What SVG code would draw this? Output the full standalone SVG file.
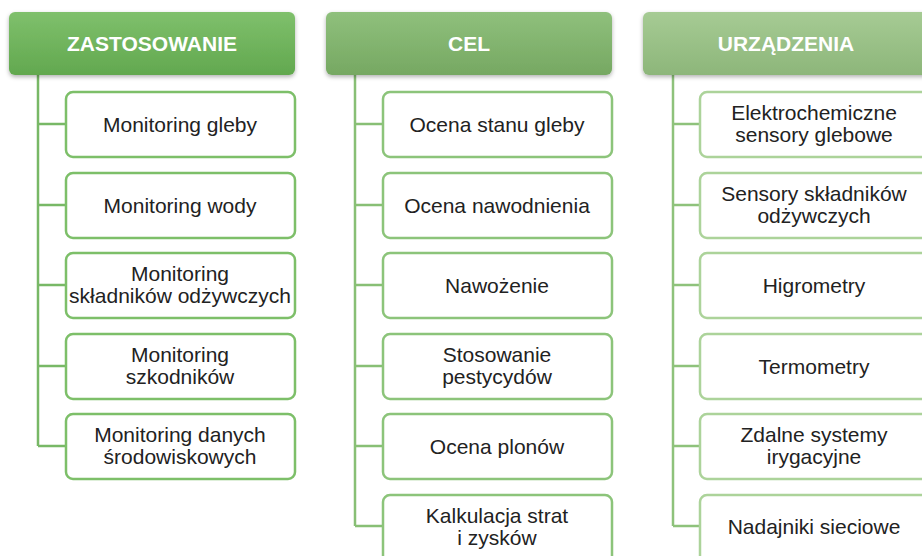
<svg xmlns="http://www.w3.org/2000/svg" width="922" height="556" viewBox="0 0 922 556">
<defs>
<linearGradient id="g1" x1="0" y1="0" x2="0" y2="1"><stop offset="0" stop-color="#7fc06c"/><stop offset="1" stop-color="#62a84f"/></linearGradient>
<linearGradient id="g2" x1="0" y1="0" x2="0" y2="1"><stop offset="0" stop-color="#8fc07c"/><stop offset="1" stop-color="#76a862"/></linearGradient>
<linearGradient id="g3" x1="0" y1="0" x2="0" y2="1"><stop offset="0" stop-color="#a6cb94"/><stop offset="1" stop-color="#8db67a"/></linearGradient>
<filter id="sh" x="-10%" y="-20%" width="120%" height="150%"><feDropShadow dx="0" dy="2" stdDeviation="2" flood-color="#000" flood-opacity="0.3"/></filter>
</defs>
<style>
.h{font-family:"Liberation Sans",Arial,sans-serif;font-size:21px;font-weight:bold;fill:#fff;text-anchor:middle}
.t{font-family:"Liberation Sans",Arial,sans-serif;font-size:21px;fill:#222;text-anchor:middle}
.b{fill:#fff;stroke-width:2.5}
.c1 .b{stroke:#7dbf69}
.c2 .b{stroke:#8cc47a}
.c3 .b{stroke:#acd39a}
.l{fill:none;stroke-width:2.5}
</style>
<rect width="922" height="556" fill="#fff"/>
<g id="connectors">
<path class="l" stroke="#78b866" d="M38 75V446M38 124H66M38 205H66M38 285H66M38 366H66M38 446H66"/>
<path class="l" stroke="#88bf75" d="M355 75V526M355 124H383M355 205H383M355 285H383M355 366H383M355 446H383M355 526H383"/>
<path class="l" stroke="#8ec27b" d="M673 75V526M673 124H700M673 205H700M673 285H700M673 366H700M673 446H700M673 526H700"/>
</g>
<g id="h1"><rect x="9" y="12" width="286" height="63" rx="6" fill="url(#g1)" filter="url(#sh)"/><text class="h" x="152" y="51">ZASTOSOWANIE</text></g>
<g id="h2"><rect x="326" y="12" width="286" height="63" rx="6" fill="url(#g2)" filter="url(#sh)"/><text class="h" x="469" y="51">CEL</text></g>
<g id="h3"><rect x="643" y="12" width="290" height="63" rx="6" fill="url(#g3)" filter="url(#sh)"/><text class="h" x="786" y="51">URZĄDZENIA</text></g>
<g class="c1">
<g id="a1"><rect class="b" x="66" y="92" width="229" height="65" rx="7"/><text class="t" x="180" y="132">Monitoring gleby</text></g>
<g id="a2"><rect class="b" x="66" y="173" width="229" height="65" rx="7"/><text class="t" x="180" y="213">Monitoring wody</text></g>
<g id="a3"><rect class="b" x="66" y="253" width="229" height="65" rx="7"/><text class="t" x="180" y="281">Monitoring</text><text class="t" x="180" y="303">składników odżywczych</text></g>
<g id="a4"><rect class="b" x="66" y="334" width="229" height="65" rx="7"/><text class="t" x="180" y="362">Monitoring</text><text class="t" x="180" y="384">szkodników</text></g>
<g id="a5"><rect class="b" x="66" y="414" width="229" height="65" rx="7"/><text class="t" x="180" y="442">Monitoring danych</text><text class="t" x="180" y="464">środowiskowych</text></g>
</g>
<g class="c2">
<g id="b1"><rect class="b" x="383" y="92" width="229" height="65" rx="7"/><text class="t" x="497" y="132">Ocena stanu gleby</text></g>
<g id="b2"><rect class="b" x="383" y="173" width="229" height="65" rx="7"/><text class="t" x="497" y="213">Ocena nawodnienia</text></g>
<g id="b3"><rect class="b" x="383" y="253" width="229" height="65" rx="7"/><text class="t" x="497" y="293">Nawożenie</text></g>
<g id="b4"><rect class="b" x="383" y="334" width="229" height="65" rx="7"/><text class="t" x="497" y="362">Stosowanie</text><text class="t" x="497" y="384">pestycydów</text></g>
<g id="b5"><rect class="b" x="383" y="414" width="229" height="65" rx="7"/><text class="t" x="497" y="454">Ocena plonów</text></g>
<g id="b6"><rect class="b" x="383" y="495" width="229" height="70" rx="7"/><text class="t" x="497" y="523">Kalkulacja strat</text><text class="t" x="497" y="545">i zysków</text></g>
</g>
<g class="c3">
<g id="d1"><rect class="b" x="700" y="92" width="240" height="65" rx="7"/><text class="t" x="814" y="120">Elektrochemiczne</text><text class="t" x="814" y="142">sensory glebowe</text></g>
<g id="d2"><rect class="b" x="700" y="173" width="240" height="65" rx="7"/><text class="t" x="814" y="201">Sensory składników</text><text class="t" x="814" y="223">odżywczych</text></g>
<g id="d3"><rect class="b" x="700" y="253" width="240" height="65" rx="7"/><text class="t" x="814" y="293">Higrometry</text></g>
<g id="d4"><rect class="b" x="700" y="334" width="240" height="65" rx="7"/><text class="t" x="814" y="374">Termometry</text></g>
<g id="d5"><rect class="b" x="700" y="414" width="240" height="65" rx="7"/><text class="t" x="814" y="442">Zdalne systemy</text><text class="t" x="814" y="464">irygacyjne</text></g>
<g id="d6"><rect class="b" x="700" y="495" width="240" height="70" rx="7"/><text class="t" x="814" y="534">Nadajniki sieciowe</text></g>
</g>
</svg>
